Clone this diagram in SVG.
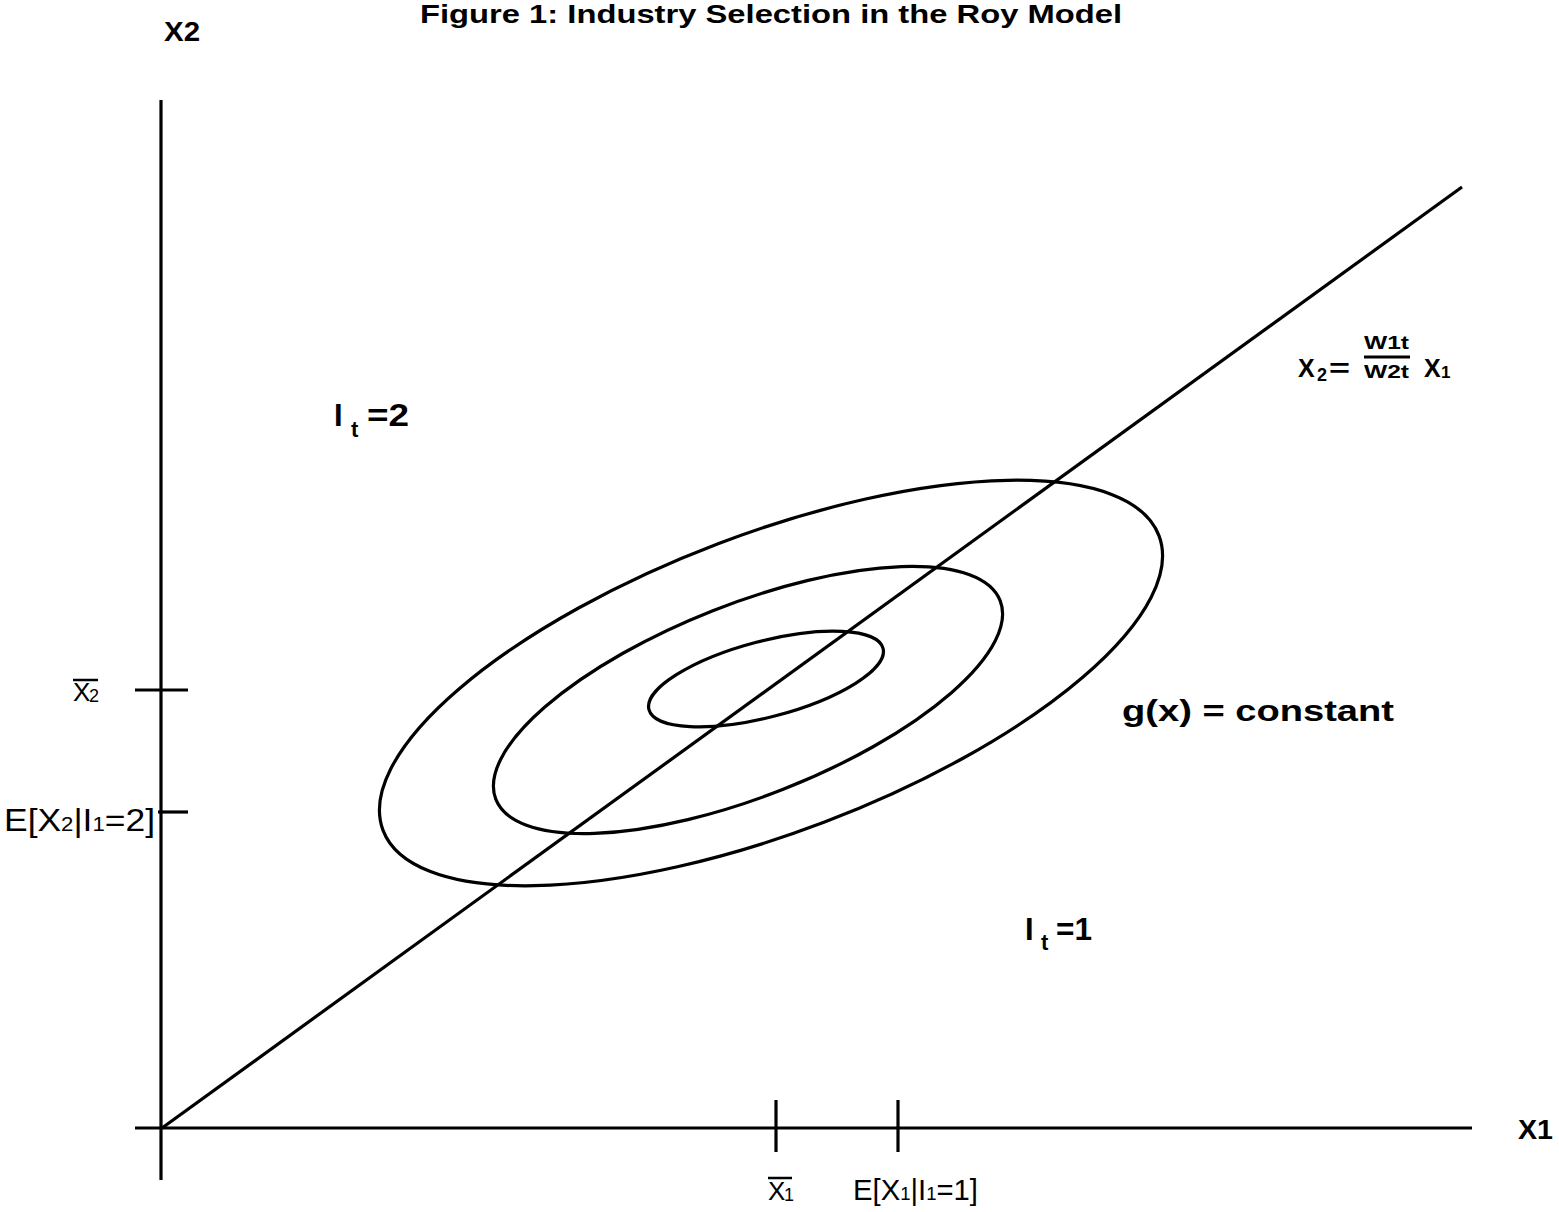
<svg xmlns="http://www.w3.org/2000/svg" width="1559" height="1212" viewBox="0 0 1559 1212">
<style>
.ln{stroke:#000;stroke-width:3.2;fill:none}
.b{font-family:"Liberation Sans",Arial,sans-serif;font-weight:bold;fill:#000}
.r{font-family:"Liberation Sans",Arial,sans-serif;fill:#000}
</style>
<rect width="1559" height="1212" fill="#fff"/>
<text class="b" x="420" y="23" font-size="26" textLength="702" lengthAdjust="spacingAndGlyphs">Figure  1: Industry Selection in the Roy Model</text>
<g id="axes">
<line class="ln" x1="161" y1="100" x2="161" y2="1180"/>
<line class="ln" x1="135" y1="1128" x2="1472" y2="1128"/>
</g>
<g id="connectors">
<line class="ln" x1="162" y1="1128" x2="1462" y2="187"/>
<line class="ln" x1="135" y1="690" x2="188" y2="690"/>
<line class="ln" x1="158" y1="812" x2="188" y2="812"/>
<line class="ln" x1="776" y1="1100" x2="776" y2="1152"/>
<line class="ln" x1="898" y1="1100" x2="898" y2="1152"/>
</g>
<g id="ellipses">
<ellipse class="ln" cx="771" cy="683" rx="415" ry="149" transform="rotate(-20.8 771 683)"/>
<ellipse class="ln" cx="748" cy="700" rx="271" ry="96" transform="rotate(-21.5 748 700)"/>
<ellipse class="ln" cx="766" cy="679" rx="121" ry="38" transform="rotate(-14.7 766 679)"/>
</g>
<g id="labels">
<text class="b" x="164" y="41" font-size="28" textLength="36" lengthAdjust="spacingAndGlyphs">X2</text>
<text class="b" x="1518" y="1139" font-size="28" textLength="35" lengthAdjust="spacingAndGlyphs">X1</text>
<text class="b" x="334" y="426" font-size="31">I</text>
<text class="b" x="351" y="437" font-size="22">t</text>
<text class="b" x="367" y="426" font-size="32" textLength="42" lengthAdjust="spacingAndGlyphs">=2</text>
<text class="b" x="1025" y="940" font-size="31">I</text>
<text class="b" x="1041" y="950" font-size="22">t</text>
<text class="b" x="1056" y="940" font-size="31" textLength="36" lengthAdjust="spacingAndGlyphs">=1</text>
<text class="b" x="1122" y="721" font-size="30" textLength="272" lengthAdjust="spacingAndGlyphs">g(x) = constant</text>
<g id="formula">
<text class="b" x="1298" y="377" font-size="25">X</text>
<text class="b" x="1317" y="381" font-size="18">2</text>
<text class="b" x="1329" y="377" font-size="25" textLength="21" lengthAdjust="spacingAndGlyphs">=</text>
<text class="b" x="1364" y="349" font-size="19" textLength="45" lengthAdjust="spacingAndGlyphs">W1t</text>
<line x1="1364" y1="357" x2="1410" y2="357" stroke="#000" stroke-width="3"/>
<text class="b" x="1364" y="378" font-size="19" textLength="45" lengthAdjust="spacingAndGlyphs">W2t</text>
<text class="b" x="1424" y="377" font-size="25">X</text>
<text class="b" x="1441" y="378" font-size="17">1</text>
</g>
<g id="x2bar">
<line x1="73" y1="680" x2="98" y2="680" stroke="#000" stroke-width="2.5"/>
<text class="r" x="73" y="701" font-size="26">X</text>
<text class="r" x="89" y="702" font-size="18">2</text>
</g>
<text class="r" x="4" y="831" font-size="32" textLength="151" lengthAdjust="spacingAndGlyphs">E[X<tspan font-size="20">2</tspan>|I<tspan font-size="20">1</tspan>=2]</text>
<g id="x1bar">
<line x1="768" y1="1178" x2="792" y2="1178" stroke="#000" stroke-width="2.5"/>
<text class="r" x="768" y="1200" font-size="26">X</text>
<text class="r" x="784" y="1201" font-size="18">1</text>
</g>
<text class="r" x="853" y="1200" font-size="30" textLength="125" lengthAdjust="spacingAndGlyphs">E[X<tspan font-size="19">1</tspan>|I<tspan font-size="19">1</tspan>=1]</text>
</g>
</svg>
